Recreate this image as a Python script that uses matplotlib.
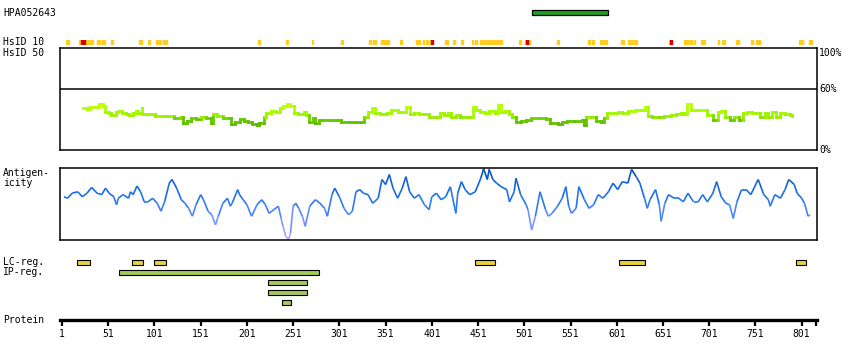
import numpy as np
import matplotlib
matplotlib.use("Agg")
import matplotlib.pyplot as plt
from matplotlib.collections import LineCollection
from matplotlib.colors import LinearSegmentedColormap, Normalize

plt.rcParams["font.family"] = "DejaVu Sans Mono"
FS = 7

# ---------------------------------------------------------------- data
PROT_LEN = 817
antigen_name = "HPA052643"
antigen_start, antigen_end = 509, 591

# HsID 10 hits (start residue, length)
hs10_yellow_start = [5, 19, 26, 39, 44, 54, 84, 94, 103, 110, 213, 243, 271, 303, 333,
                     337, 346, 367, 384, 391, 395, 399, 415, 424, 432, 444, 448, 453,
                     465, 470, 495, 502, 505, 536, 570, 574, 583, 588, 606, 613, 657,
                     674, 684, 692, 710, 715, 730, 746, 752, 755, 798, 809]
hs10_yellow_len = [4, 3, 9, 3, 3, 2, 3, 2, 5, 5, 2, 2, 2, 2, 2,
                   4, 9, 2, 4, 2, 2, 1, 3, 2, 3, 2, 2, 11,
                   4, 7, 2, 1, 2, 2, 2, 2, 4, 2, 3, 10, 1,
                   8, 2, 4, 2, 3, 3, 2, 2, 1, 4, 3]
hs10_red_start = [22, 400, 503, 659]
hs10_red_len = [4, 2, 2, 2]

# HsID 50 identity (%) along the sequence
hs50_pos = [24, 28, 31, 36, 41, 45, 48, 52, 54, 59, 62, 66, 70, 74, 78, 81, 83, 87, 88, 96,
            102, 112, 121, 122, 130, 132, 136, 141, 146, 151, 157, 162, 164, 169, 175, 181,
            184, 188, 193, 198, 202, 206, 212, 214, 220, 222, 227, 232, 237, 240, 244, 248,
            252, 256, 263, 265, 268, 272, 275, 279, 282, 290, 298, 303, 311, 319, 324, 328,
            332, 336, 340, 345, 353, 357, 364, 369, 373, 377, 382, 387, 393, 398, 406, 410,
            414, 419, 422, 427, 431, 434, 440, 445, 449, 453, 458, 463, 469, 473, 476, 480,
            484, 488, 492, 497, 503, 508, 516, 524, 529, 537, 542, 547, 555, 563, 566, 568,
            573, 579, 584, 587, 590, 597, 602, 607, 613, 621, 628, 632, 635, 639, 647, 652,
            660, 665, 670, 674, 677, 681, 689, 697, 699, 705, 710, 714, 718, 723, 728, 733,
            738, 742, 747, 752, 756, 761, 765, 769, 773, 778, 783, 788, 791]
hs50_val = [40.8, 40, 42, 42.5, 45, 43, 37.6, 36, 34.3, 37.6, 38.6, 36, 35.3, 34.3, 36, 38.6,
            36, 40.8, 35.3, 35.3, 33.7, 33.7, 33.7, 31, 32, 26.8, 28.8, 31, 30, 32.7, 31, 26,
            35.3, 33.3, 31, 31, 25.5, 27.8, 30, 28.8, 27, 25.5, 24.5, 26, 32.7, 36.6, 38.6,
            37.6, 40.8, 43, 45, 43, 36, 35.3, 37.6, 34.3, 27.8, 31, 26, 29.4, 29.4, 29.4, 29.4,
            27.8, 27, 27, 27.8, 32, 37.6, 41.5, 36, 35.3, 36, 39.2, 37.6, 37.6, 42.5, 35.3, 36,
            35.3, 35.3, 32.7, 32.7, 36.6, 34.3, 36, 32.7, 34.3, 32, 32.7, 32.7, 41.8, 39.2,
            37.6, 36, 38.6, 36.6, 44, 37.6, 38.6, 35.3, 32, 27.8, 28.8, 29.4, 31, 31, 30.4,
            26.8, 25.5, 27.8, 28.8, 28.8, 29.4, 24.5, 32.7, 32.7, 28.8, 27.8, 31, 36, 36, 37.6,
            36, 38.6, 39.2, 39.2, 42.5, 33.3, 32, 32, 33.3, 34.3, 35.3, 36.6, 35.3, 45, 39.2,
            39.2, 39.2, 34.3, 29.4, 37.6, 38.6, 32.7, 29.4, 32.7, 29.4, 36, 37.6, 36, 36, 32,
            36, 32.7, 37.6, 32.7, 36, 35.3, 34.3, 33.3]

# antigenicity (0 = panel bottom, 100 = panel top)
ag_pos = [3, 7, 12, 18, 23, 28, 33, 39, 44, 48, 52, 57, 60, 62, 67, 73, 75, 78, 82, 86,
          90, 94, 99, 104, 108, 112, 117, 120, 125, 130, 134, 138, 142, 146, 151, 154, 159,
          163, 167, 170, 175, 180, 183, 185, 191, 193, 197, 201, 206, 212, 217, 221, 225,
          230, 235, 238, 240, 243, 246, 248, 251, 254, 257, 261, 264, 269, 275, 280, 285,
          288, 293, 296, 301, 306, 311, 315, 319, 323, 327, 332, 337, 343, 347, 351, 355,
          359, 364, 369, 373, 377, 382, 387, 393, 398, 401, 406, 411, 416, 421, 427, 429,
          433, 437, 442, 448, 454, 457, 461, 463, 467, 471, 476, 482, 485, 490, 492, 497,
          503, 505, 509, 513, 518, 524, 527, 531, 537, 542, 546, 549, 552, 557, 560, 566,
          571, 576, 581, 586, 592, 597, 602, 607, 613, 617, 622, 626, 631, 634, 637, 643,
          647, 649, 653, 657, 663, 668, 673, 678, 684, 689, 694, 699, 705, 709, 714, 719,
          723, 727, 731, 736, 741, 746, 752, 754, 760, 765, 767, 772, 778, 783, 787, 793,
          796, 801, 804, 808, 810]
ag_val = [60, 58, 65, 67, 60, 65, 73, 65, 63, 72, 65, 60, 49, 58, 63, 58, 67, 63, 75, 67,
          53, 53, 58, 51, 40, 53, 79, 84, 72, 56, 51, 44, 33, 49, 63, 56, 40, 35, 21, 33,
          51, 58, 47, 51, 70, 63, 56, 49, 33, 49, 56, 49, 37, 42, 47, 30, 19, 5, 1, 9,
          47, 51, 44, 33, 19, 47, 56, 51, 44, 33, 63, 72, 60, 44, 35, 40, 67, 70, 65, 63,
          51, 58, 84, 77, 91, 72, 58, 72, 88, 67, 58, 63, 49, 42, 60, 65, 56, 60, 74, 37,
          65, 81, 70, 63, 67, 86, 99, 84, 98, 84, 79, 74, 70, 53, 67, 86, 63, 49, 42, 14,
          33, 67, 42, 33, 37, 47, 58, 74, 47, 37, 44, 74, 56, 44, 49, 63, 58, 67, 79, 70,
          81, 79, 98, 88, 79, 58, 44, 56, 70, 49, 26, 51, 63, 58, 58, 53, 65, 53, 53, 63,
          53, 65, 81, 60, 51, 49, 30, 53, 70, 70, 63, 79, 84, 63, 56, 47, 63, 58, 70, 84,
          77, 65, 58, 51, 33, 35]

# low-complexity / IP regions: (start, end)
lc_start = [17, 77, 100, 448, 603, 795]
lc_end = [31, 89, 114, 469, 632, 806]
ip_start = [63, 224, 224, 239]
ip_end = [279, 266, 266, 249]

tick_res = [1, 51, 101, 151, 201, 251, 301, 351, 401, 451, 501, 551, 601, 651, 701, 751, 801]

# ---------------------------------------------------------------- layout
W, H = 850, 360
X0, PPR = 62, 0.9246          # pixel of residue 1, pixels per residue
LEFT, RIGHT = 60, 817         # panel frame in pixels
XLIM = (1 + (LEFT - X0) / PPR, 1 + (RIGHT - X0) / PPR)

fig = plt.figure(figsize=(W / 100, H / 100), dpi=100)


def add_ax(top, bottom):
    a = fig.add_axes([LEFT / W, 1 - bottom / H, (RIGHT - LEFT) / W, (bottom - top) / H])
    a.set_xlim(*XLIM)
    a.patch.set_visible(False)
    return a


def label(y, s):
    fig.text(3 / W, 1 - y / H, s, fontsize=FS, va="center", ha="left")


# antigen bar
ax = add_ax(10, 15)
ax.barh(0.5, antigen_end - antigen_start, left=antigen_start, height=1.0,
        color="#1ea01e", edgecolor="black", linewidth=0.9, clip_on=False)
ax.set_ylim(0, 1)
ax.axis("off")
label(13, antigen_name)

# HsID 10
ax = add_ax(39.5, 45)
ax.broken_barh(list(zip(hs10_yellow_start, hs10_yellow_len)), (0, 1), color="#ffcc22")
ax.broken_barh(list(zip(hs10_red_start, hs10_red_len)), (0, 1), color="#dd0000")
ax.set_ylim(0, 1)
ax.axis("off")
label(42, "HsID 10")
label(52.5, "HsID 50")

# HsID 50 panel
ax = add_ax(48, 150)
ax.set_ylim(0, 100)
ax.set_xticks([]); ax.set_yticks([])
for sp in ax.spines.values():
    sp.set_linewidth(1.1)
ax.axhline(60, color="black", lw=1.1)
x = np.asarray(hs50_pos, float)
y = np.asarray(hs50_val, float)
xs = np.repeat(x, 2)[1:]
ys = np.repeat(y, 2)[:-1]
pts = np.column_stack([xs, ys])
segs = np.stack([pts[:-1], pts[1:]], axis=1)
cmap_hs = LinearSegmentedColormap.from_list(
    "hs", [(0, "#5cb800"), (0.3, "#66cc00"), (0.4, "#99ee00"), (0.7, "#aaff00"), (1, "#ccff00")])
lc = LineCollection(segs, cmap=cmap_hs, norm=Normalize(24, 46), linewidths=2.0,
                    capstyle="projecting")
lc.set_array((ys[:-1] + ys[1:]) / 2)
ax.add_collection(lc)
tx = ax.get_yaxis_transform()
ax.text(1 + 2 / 757, 100, "100%", transform=tx, fontsize=FS, va="top", ha="left")
ax.text(1 + 2 / 757, 60, "60%", transform=tx, fontsize=FS, va="center", ha="left")
ax.text(1 + 2 / 757, 0, "0%", transform=tx, fontsize=FS, va="center", ha="left")

# antigenicity panel
ax = add_ax(168, 240)
ax.set_ylim(0, 100)
ax.set_xticks([]); ax.set_yticks([])
for sp in ax.spines.values():
    sp.set_linewidth(1.1)
pts = np.column_stack([ag_pos, ag_val]).astype(float)
segs = np.stack([pts[:-1], pts[1:]], axis=1)
cmap_ag = LinearSegmentedColormap.from_list(
    "ag", [(0, "#b4a8ff"), (0.25, "#7f95ff"), (0.45, "#3b80f5"), (0.65, "#1a6ee8"),
           (0.85, "#0f5fd0"), (1, "#0047a8")])
lc = LineCollection(segs, cmap=cmap_ag, norm=Normalize(0, 100), linewidths=1.2)
lc.set_array((pts[:-1, 1] + pts[1:, 1]) / 2)
ax.add_collection(lc)
label(173, "Antigen-")
label(183, "icity")

# LC / IP regions
ax = add_ax(255, 310)
ax.set_ylim(4.75, -0.75)
ax.barh([0] * len(lc_start), np.subtract(lc_end, lc_start), left=lc_start, height=0.45,
        color="#e6d33c", edgecolor="black", linewidth=0.8)
ax.barh([1, 2, 3, 4], np.subtract(ip_end, ip_start), left=ip_start, height=0.45,
        color="#a3c95a", edgecolor="black", linewidth=0.8)
ax.axis("off")
label(262, "LC-reg.")
label(272, "IP-reg.")

# protein axis
ax = add_ax(312, 319.5)
for s in ("top", "left", "right"):
    ax.spines[s].set_visible(False)
ax.spines["bottom"].set_linewidth(2.4)
ax.set_yticks([])
ax.set_xticks(tick_res)
ax.set_xticklabels([str(t) for t in tick_res], fontsize=FS)
ax.set_xticks([PROT_LEN], minor=True)
ax.tick_params(axis="x", which="both", length=4.5, width=1.6, pad=2)
label(320, "Protein")

fig.savefig("out.png", dpi=100)
